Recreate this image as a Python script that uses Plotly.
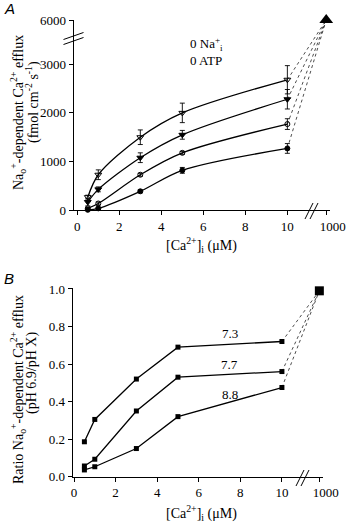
import plotly.graph_objects as go

# ---------------- data ----------------
ca_conc = [0.5, 1, 3, 5, 10]          # [Ca2+]i (uM)
ca_max = 1000                          # break value on x axis

# Panel A: Na-dependent Ca efflux (fmol cm-2 s-1)
efflux_open_tri = [270, 730, 1500, 2000, 2680]
err_open_tri = [40, 100, 150, 200, 290]
efflux_fill_tri = [170, 430, 1080, 1550, 2280]
err_fill_tri = [80, 50, 100, 90, 200]
efflux_open_circ = [40, 140, 730, 1180, 1770]
err_open_circ = [20, 30, 30, 30, 110]
efflux_fill_circ = [10, 40, 390, 820, 1270]
err_fill_circ = [10, 20, 30, 60, 100]
efflux_max = 6000

yticks_A = [0, 1000, 2000, 3000, 6000]
xticks = [0, 2, 4, 6, 8, 10]

# Panel B: ratio pH 6.9 / pH X
ratio_73 = [0.186, 0.305, 0.52, 0.69, 0.72]
ratio_77 = [0.057, 0.093, 0.35, 0.53, 0.56]
ratio_88 = [0.036, 0.053, 0.15, 0.32, 0.475]
ratio_max = 0.99
ph_labels = ["7.3", "7.7", "8.8"]
ph_label_pos = [0.765, 0.60, 0.44]
yticks_B = [0.0, 0.2, 0.4, 0.6, 0.8, 1.0]

# ---------------- axis-break mappings ----------------
XBRK_A = 11.85
XBRK_B = 11.8


def xa(v):
    return v if v <= 10 else XBRK_A


def xb(v):
    return v if v <= 10 else XBRK_B


def ya(v):
    return v if v <= 3000 else 3000 + (v - 3000) * 907 / 3000


W, H = 352, 529


def px(x):
    return x / W


def py(y):
    return 1 - y / H


FONT = "Liberation Serif, Times New Roman, serif"
fig = go.Figure()

series_A = [
    (efflux_open_tri, err_open_tri, "triangle-down-open", 6),
    (efflux_fill_tri, err_fill_tri, "triangle-down", 6),
    (efflux_open_circ, err_open_circ, "circle-open", 5),
    (efflux_fill_circ, err_fill_circ, "circle", 5),
]

for vals, errs, sym, sz in series_A:
    fig.add_trace(go.Scatter(
        x=[xa(v) for v in ca_conc], y=[ya(v) for v in vals],
        mode="lines+markers", line=dict(color="black", width=1.3, shape="spline", smoothing=0.9),
        marker=dict(symbol=sym, size=sz, color="black", line=dict(color="black", width=1)),
        error_y=dict(type="data", array=errs, color="black", thickness=0.9, width=2.5),
        xaxis="x", yaxis="y", cliponaxis=False, showlegend=False))
    fig.add_trace(go.Scatter(
        x=[xa(ca_conc[-1]), xa(ca_max)], y=[ya(vals[-1]), ya(efflux_max)],
        mode="lines", line=dict(color="black", width=0.7, dash="dot"),
        xaxis="x", yaxis="y", cliponaxis=False, showlegend=False))

fig.add_trace(go.Scatter(
    x=[xa(ca_max)], y=[ya(efflux_max)], mode="markers",
    marker=dict(symbol="triangle-up", size=12, color="black"),
    xaxis="x", yaxis="y", cliponaxis=False, showlegend=False))

for vals in [ratio_73, ratio_77, ratio_88]:
    fig.add_trace(go.Scatter(
        x=[xb(v) for v in ca_conc], y=vals, mode="lines+markers",
        line=dict(color="black", width=1.3),
        marker=dict(symbol="square", size=5, color="black"),
        xaxis="x2", yaxis="y2", cliponaxis=False, showlegend=False))
    fig.add_trace(go.Scatter(
        x=[xb(ca_conc[-1]), xb(ca_max)], y=[vals[-1], ratio_max],
        mode="lines", line=dict(color="black", width=0.7, dash="dot"),
        xaxis="x2", yaxis="y2", cliponaxis=False, showlegend=False))

fig.add_trace(go.Scatter(
    x=[xb(ca_max)], y=[ratio_max], mode="markers",
    marker=dict(symbol="square", size=9, color="black"),
    xaxis="x2", yaxis="y2", cliponaxis=False, showlegend=False))

NB = "\u00a0" * 4
axis_common = dict(showline=True, linecolor="black", linewidth=1, ticks="outside",
                   ticklen=4, tickcolor="black", tickwidth=1, showgrid=False, zeroline=False,
                   automargin=False,
                   tickfont=dict(family=FONT, size=13, color="black"))

fig.update_layout(
    width=W, height=H, margin=dict(l=0, r=0, t=0, b=0, pad=0, autoexpand=False),
    paper_bgcolor="white", plot_bgcolor="white",
    font=dict(family=FONT, size=13, color="black"),
    xaxis=dict(domain=[px(73.5), px(330)], range=[-0.18, 12.03], anchor="y",
               tickmode="array", tickvals=xticks + [xa(ca_max)],
               ticktext=[str(t) for t in xticks] + [NB + str(ca_max)], **axis_common),
    yaxis=dict(domain=[py(210.3), py(20)], range=[0, ya(efflux_max)], anchor="x",
               tickmode="array", tickvals=[ya(v) for v in yticks_A],
               ticktext=[str(v) for v in yticks_A], **axis_common),
    xaxis2=dict(domain=[px(72.7), px(323.3)], range=[-0.0625, 11.99], anchor="y2",
                tickmode="array", tickvals=xticks + [xb(ca_max)],
                ticktext=[str(t) for t in xticks] + [NB + str(ca_max)], **axis_common),
    yaxis2=dict(domain=[py(476.7), py(288)], range=[0, 1.005], anchor="x2",
                tickmode="array", tickvals=yticks_B,
                ticktext=["%.1f" % v for v in yticks_B], **axis_common),
)

ann_font = dict(family=FONT, size=13, color="black")
title_font = dict(family=FONT, size=14, color="black")
C = dict(xref="paper", yref="paper", showarrow=False, xanchor="center", yanchor="middle")
annotations = [
    dict(text="<i>A</i>", x=px(9), y=py(8), **C,
         font=dict(family="Liberation Sans, Arial, sans-serif", size=15, color="black")),
    dict(text="<i>B</i>", x=px(9), y=py(278), **C,
         font=dict(family="Liberation Sans, Arial, sans-serif", size=15, color="black")),
    dict(text="0 Na<sup>+</sup><sub>i</sub><br>0 ATP", x=px(188), y=py(51), xref="paper", yref="paper",
         showarrow=False, align="left", xanchor="left", yanchor="middle", font=ann_font),
    dict(text="Na<sub>o</sub><sup>+</sup>-dependent Ca<sup>2+</sup> efflux",
         x=px(18), y=py(113), textangle=-90, font=title_font, **C),
    dict(text="(fmol cm<sup>-2</sup> s<sup>-1</sup>)",
         x=px(32), y=py(102), textangle=-90, font=title_font, **C),
    dict(text="[Ca<sup>2+</sup>]<sub>i</sub> (\u03bcM)", x=px(201), y=py(245), font=title_font, **C),
    dict(text="Ratio Na<sub>o</sub><sup>+</sup>-dependent Ca<sup>2+</sup> efflux",
         x=px(18), y=py(390), textangle=-90, font=title_font, **C),
    dict(text="(pH 6.9/pH X)",
         x=px(32), y=py(373), textangle=-90, font=title_font, **C),
    dict(text="[Ca<sup>2+</sup>]<sub>i</sub> (\u03bcM)", x=px(201), y=py(513), font=title_font, **C),
]
for lab, yy in zip(ph_labels, ph_label_pos):
    annotations.append(dict(text=lab, x=7.5, y=yy, xref="x2", yref="y2", showarrow=False,
                            xanchor="center", yanchor="middle", font=ann_font))
fig.update_layout(annotations=annotations)

# axis-break marks
brk = dict(color="black", width=1)
shapes = []
for dy in (0, 5):
    shapes.append(dict(type="line", xref="paper", yref="paper",
                       x0=px(63.5), y0=py(39.5 + dy), x1=px(83.5), y1=py(32.5 + dy), line=brk))
for cx in (309, 314):
    shapes.append(dict(type="line", xref="paper", yref="paper",
                       x0=px(cx - 4), y0=py(219), x1=px(cx + 4), y1=py(203), line=brk))
for cx in (300, 305):
    shapes.append(dict(type="line", xref="paper", yref="paper",
                       x0=px(cx - 4), y0=py(486), x1=px(cx + 4), y1=py(470), line=brk))
fig.update_layout(shapes=shapes)

fig.write_html("out.html", config={"displayModeBar": False},
               post_script="document.body.style.margin='0px';document.body.style.overflow='hidden';")
